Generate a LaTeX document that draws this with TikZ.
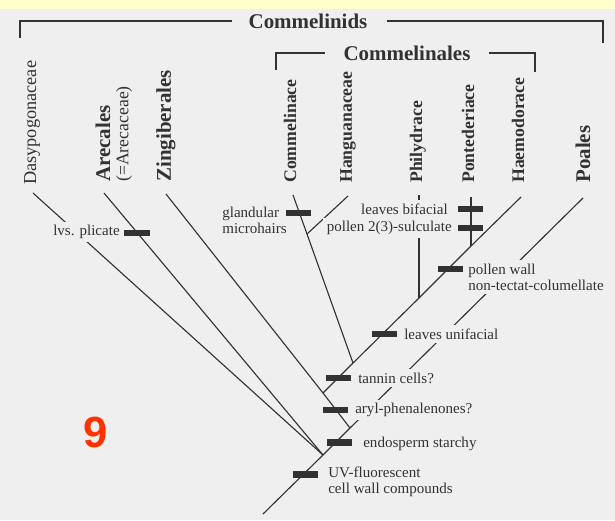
\documentclass[tikz,border=0pt]{standalone}
\usepackage{fontspec}
\setmainfont{Liberation Serif}
\newfontfamily\numfont{Liberation Sans}
\usetikzlibrary{calc}

\definecolor{paper}{RGB}{239,239,239}
\definecolor{band}{RGB}{255,255,204}
\definecolor{ink}{RGB}{50,50,50}
\definecolor{signal}{RGB}{255,51,0}

\begin{document}
\begin{tikzpicture}[x=0.025cm, y=-0.025cm,
    branch/.style={draw=ink, line width=0.8pt},
    bracket/.style={draw=ink, line width=1.4pt},
    synbar/.style={rectangle, fill=ink, inner sep=0pt,
      minimum width=0.625cm, minimum height=0.16cm},
    note/.style={fill=paper, inner sep=2.5pt, text=ink, align=left,
      font=\fontsize{10.7}{11.4}\selectfont},
    taxon/.style={rotate=90, anchor=west, inner sep=0pt, text=ink,
      font=\bfseries\fontsize{12.6}{14}\selectfont},
    order/.style={taxon, font=\bfseries\fontsize{14.9}{16}\selectfont},
    plain/.style={taxon, font=\fontsize{13}{14}\selectfont},
    group/.style={text=ink, inner sep=0pt,
      font=\bfseries\fontsize{14.9}{16}\selectfont}]
    \useasboundingbox (0, 0) rectangle (615, 520);
    \fill [paper] (0, 0) rectangle (615, 520);
    \fill [band] (0, 0) rectangle (615, 9);

    % group brackets
    \node (Ids) at (308, 21) [group] {Commelinids};
    \coordinate (IdsL) at (20, 38);
    \coordinate (IdsR) at (603, 43);
    \draw [bracket] (IdsL) |- ($(Ids.west) + (-16, 0)$);
    \draw [bracket] ($(Ids.east) + (19, 0)$) -| (IdsR);

    \node (Ales) at (407, 53) [group] {Commelinales};
    \coordinate (AlesL) at (276, 70);
    \coordinate (AlesR) at (535, 72);
    \draw [bracket] (AlesL) |- ($(Ales.west) + (-18, 0)$);
    \draw [bracket] ($(Ales.east) + (18, 0)$) -| (AlesR);

    % terminal taxa
    \node (LDasy) at (32, 185)  [plain] {Dasypogonaceae};
    \node (LArec) at (103, 182) [order] {Arecales};
    \node (LAreq) at (124, 182) [plain, font=\fontsize{12.6}{14}\selectfont] {(=Arecaceae)};
    \node (LZing) at (166, 182) [order] {Zingiberales};
    \node (LComm) at (290, 183) [taxon] {Commelinace};
    \node (LHang) at (348, 183) [taxon] {Hanguanaceae};
    \node (LPhil) at (418, 183) [taxon] {Philydrace};
    \node (LPont) at (468, 183) [taxon] {Pontederiace};
    \node (LHaem) at (518, 183) [taxon] {Haemodorace};
    \node (LPoal) at (583, 183) [order] {Poales};

    % tips and junctions
    \coordinate (Dasy) at (33, 193);
    \coordinate (Arec) at (104, 193);
    \coordinate (Zing) at (166, 194);
    \coordinate (Comm) at (293, 195);
    \coordinate (Hang) at (348, 196);
    \coordinate (Phil) at (419, 195);
    \coordinate (Pont) at (471, 197);
    \coordinate (Haem) at (521, 197);
    \coordinate (Poal) at (583, 198);
    \coordinate (Root) at (263, 514);
    \coordinate (J1) at (323, 455);
    \coordinate (J2) at (350, 428);
    \coordinate (J3) at (323, 393);
    \coordinate (J4) at (353, 363);
    \coordinate (J5) at (307, 234);
    \coordinate (J6) at (419, 298);
    \coordinate (J7) at (471, 246);

    % tree
    \draw [branch] (Root) -- (J1) -- (J2) -- (Poal);
    \draw [branch] (Dasy) -- (J1);
    \draw [branch] (Arec) -- (J1);
    \draw [branch] (Zing) -- (J3) -- (J2);
    \draw [branch] (J3) -- (J4) -- (J6) -- (J7) -- (Haem);
    \draw [branch] (Comm) -- (J5) -- (J4);
    \draw [branch] (Hang) -- (J5);
    \draw [branch] (Phil) -- (J6);
    \draw [branch] (Pont) -- (J7);

    % characters
    \node (TPlic) at (123.5, 232) [note, anchor=east] {lvs. plicate};
    \node (TGlan) at (218.5, 220) [note, anchor=west] {glandular\\microhairs};
    \node (TBifa) at (451.5, 209) [note, anchor=east] {leaves bifacial};
    \node (TSulc) at (455.5, 228) [note, anchor=east] {pollen 2(3)-sulculate};
    \node (TWall) at (464.5, 277) [note, anchor=west] {pollen wall\\non-tectat-columellate};
    \node (TUnif) at (400.5, 334) [note, anchor=west] {leaves unifacial};
    \node (TTann) at (354.5, 378) [note, anchor=west] {tannin cells?};
    \node (TAryl) at (351.5, 410) [note, anchor=west] {aryl-phenalenones?};
    \node (TEndo) at (359.5, 444) [note, anchor=west] {endosperm starchy};
    \node (TUvfl) at (324.5, 481.5) [note, anchor=west] {UV-fluorescent\\cell wall compounds};

    \node (BPlic) at (137, 233)   [synbar] {};
    \node (BGlan) at (298, 213)   [synbar] {};
    \node (BBifa) at (470, 209)   [synbar] {};
    \node (BSulc) at (470, 228)   [synbar] {};
    \node (BWall) at (450, 269)   [synbar] {};
    \node (BUnif) at (384, 334)   [synbar] {};
    \node (BTann) at (338, 378)   [synbar] {};
    \node (BAryl) at (335, 410)   [synbar] {};
    \node (BEndo) at (339, 442.5) [synbar] {};
    \node (BUvfl) at (305, 474.5) [synbar] {};

    \node (Nine) at (96, 432) [text=signal, font=\numfont\bfseries\fontsize{31}{31}\selectfont] {9};
\end{tikzpicture}
\end{document}
